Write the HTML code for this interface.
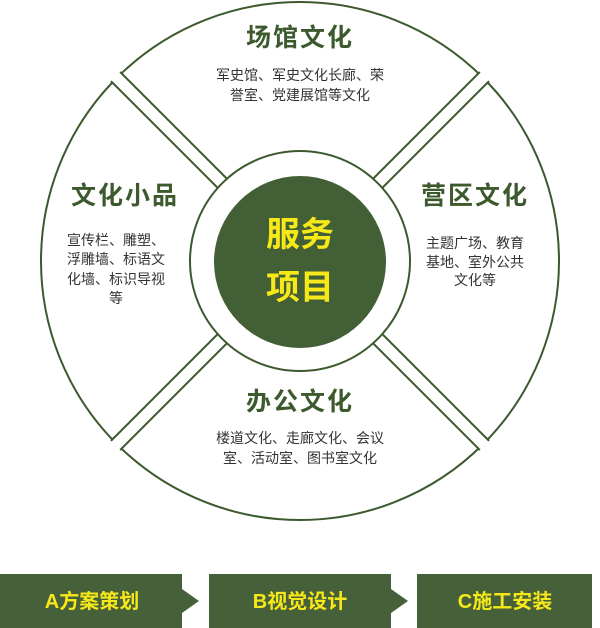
<!DOCTYPE html>
<html><head><meta charset="utf-8"><style>
html,body{margin:0;padding:0;background:#fff;width:600px;height:628px;overflow:hidden}
svg text{font-family:"Liberation Sans","Noto Sans CJK SC",sans-serif}
</style></head><body>
<svg width="600" height="628" viewBox="0 0 600 628" xmlns="http://www.w3.org/2000/svg">
<defs><clipPath id="c"><circle cx="300" cy="261" r="261"/></clipPath></defs>
<circle cx="300" cy="261" r="259" fill="#fff" stroke="#3d5a2e" stroke-width="2"/>
<g clip-path="url(#c)">
<rect x="-100" y="254.5" width="800" height="13" fill="#fff" stroke="#3d5a2e" stroke-width="2" transform="rotate(45 300 261)"/>
<rect x="-100" y="254.5" width="800" height="13" fill="#fff" stroke="#3d5a2e" stroke-width="2" transform="rotate(-45 300 261)"/>
</g>
<circle cx="300" cy="261" r="110" fill="#fff" stroke="#3d5a2e" stroke-width="2"/>
<circle cx="300" cy="262" r="86" fill="#435f36"/>
<g fill="#f7e81a" font-size="34" font-weight="bold" text-anchor="middle">
<text x="300" y="246">服务</text>
<text x="300" y="299">项目</text>
</g>
<g fill="#3d5a2e" font-size="25" font-weight="bold" text-anchor="middle" letter-spacing="2">
<text x="300" y="46">场馆文化</text>
<text x="125" y="204">文化小品</text>
<text x="475" y="204">营区文化</text>
<text x="300" y="410">办公文化</text>
</g>
<g fill="#333" font-size="14" text-anchor="middle">
<text x="300" y="80">军史馆、军史文化长廊、荣</text>
<text x="300" y="100">誉室、党建展馆等文化</text>
<text x="116" y="245">宣传栏、雕塑、</text>
<text x="116" y="264">浮雕墙、标语文</text>
<text x="116" y="284">化墙、标识导视</text>
<text x="116" y="303">等</text>
<text x="475" y="248">主题广场、教育</text>
<text x="475" y="267">基地、室外公共</text>
<text x="475" y="285">文化等</text>
<text x="300" y="443">楼道文化、走廊文化、会议</text>
<text x="300" y="463">室、活动室、图书室文化</text>
</g>
<g fill="#46613a">
<polygon points="0,574 182,574 182,589 199,601 182,613 182,628 0,628"/>
<polygon points="209,574 391,574 391,589 408,601 391,613 391,628 209,628"/>
<rect x="417" y="574" width="175" height="54"/>
</g>
<g fill="#f7e81a" font-size="20" font-weight="bold" text-anchor="middle">
<text x="92" y="608">A方案策划</text>
<text x="300" y="608">B视觉设计</text>
<text x="505" y="608">C施工安装</text>
</g>
</svg>
</body></html>
